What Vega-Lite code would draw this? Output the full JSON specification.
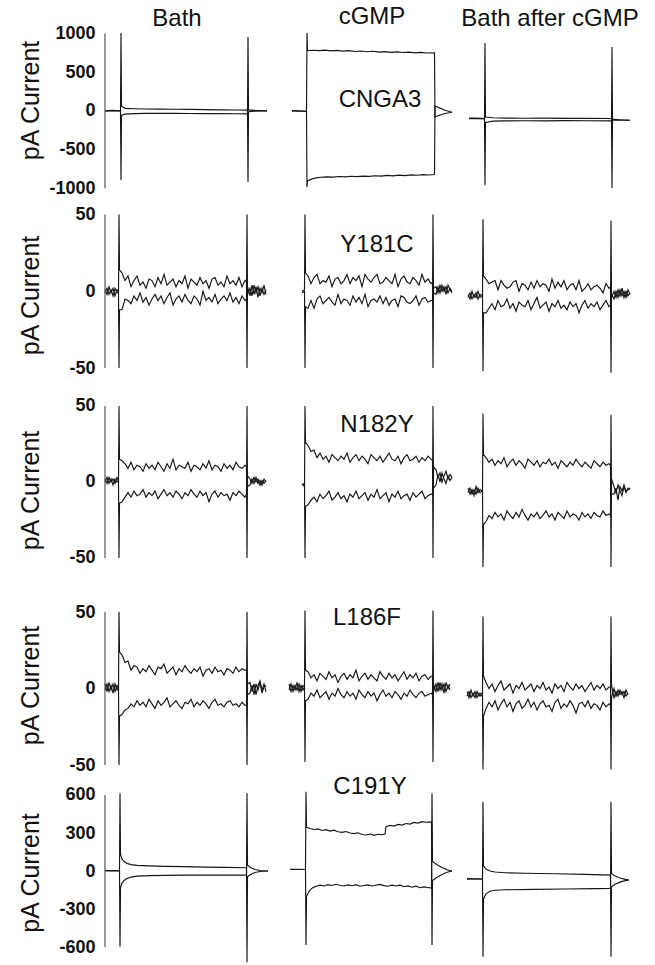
{
"$schema":"https://vega.github.io/schema/vega-lite/v6.json",
"background":"white",
"padding":{"left":18,"top":0,"right":0,"bottom":0},
"spacing":0,
"bounds":"flush",
"config":{"view":{"stroke":null},
"axis":{"labelFont":"Liberation Sans","labelFontSize":18,"labelFontWeight":"bold","labelColor":"#111","labelExpr":"'' + datum.value","titleFont":"Liberation Sans","titleFontSize":25,"titleFontWeight":"normal","titleColor":"#111","ticks":false,"labelPadding":7,"minExtent":47,"maxExtent":47,"titlePadding":12,"domain":false,"grid":false}},
"datasets":{
"r1":[
{"k":"ap","x":0,"y":0},{"k":"ap","x":8,"y":5},{"k":"ap","x":15.5,"y":0},{"k":"ap","x":16,"y":1004},{"k":"ap","x":16.5,"y":60},{"k":"ap","x":20,"y":32},{"k":"ap","x":30,"y":27},{"k":"ap","x":40,"y":24},{"k":"ap","x":55,"y":22},{"k":"ap","x":70,"y":20},{"k":"ap","x":85,"y":18},{"k":"ap","x":100,"y":15},{"k":"ap","x":115,"y":13},{"k":"ap","x":130,"y":10},{"k":"ap","x":142.5,"y":8},{"k":"ap","x":143,"y":-919},{"k":"ap","x":143.5,"y":-12},{"k":"ap","x":150,"y":-5},{"k":"ap","x":156,"y":-2},{"k":"ap","x":162,"y":0},
{"k":"an","x":0,"y":-3},{"k":"an","x":8,"y":0},{"k":"an","x":15.5,"y":-3},{"k":"an","x":16,"y":-893},{"k":"an","x":16.5,"y":-60},{"k":"an","x":20,"y":-42},{"k":"an","x":30,"y":-36},{"k":"an","x":40,"y":-34},{"k":"an","x":55,"y":-33},{"k":"an","x":70,"y":-34},{"k":"an","x":85,"y":-35},{"k":"an","x":100,"y":-36},{"k":"an","x":115,"y":-37},{"k":"an","x":130,"y":-38},{"k":"an","x":142.5,"y":-40},{"k":"an","x":143,"y":952},{"k":"an","x":143.5,"y":12},{"k":"an","x":150,"y":5},{"k":"an","x":156,"y":2},{"k":"an","x":162,"y":0},
{"k":"bp","x":187,"y":0},{"k":"bp","x":195,"y":-4},{"k":"bp","x":201.5,"y":-6},{"k":"bp","x":202,"y":1004},{"k":"bp","x":202.5,"y":778},{"k":"bp","x":208,"y":782},{"k":"bp","x":214,"y":776},{"k":"bp","x":220,"y":784},{"k":"bp","x":226,"y":774},{"k":"bp","x":232,"y":779},{"k":"bp","x":238,"y":770},{"k":"bp","x":244,"y":776},{"k":"bp","x":250,"y":766},{"k":"bp","x":256,"y":772},{"k":"bp","x":262,"y":762},{"k":"bp","x":268,"y":768},{"k":"bp","x":274,"y":758},{"k":"bp","x":280,"y":764},{"k":"bp","x":286,"y":754},{"k":"bp","x":292,"y":760},{"k":"bp","x":298,"y":752},{"k":"bp","x":304,"y":757},{"k":"bp","x":310,"y":748},{"k":"bp","x":316,"y":754},{"k":"bp","x":322,"y":746},{"k":"bp","x":329.5,"y":748},{"k":"bp","x":330,"y":-80},{"k":"bp","x":335,"y":-55},{"k":"bp","x":340,"y":-35},{"k":"bp","x":347,"y":-18},
{"k":"bn","x":187,"y":2},{"k":"bn","x":195,"y":-2},{"k":"bn","x":201.5,"y":-5},{"k":"bn","x":202,"y":-983},{"k":"bn","x":202.5,"y":-905},{"k":"bn","x":206,"y":-885},{"k":"bn","x":210,"y":-868},{"k":"bn","x":216,"y":-858},{"k":"bn","x":222,"y":-852},{"k":"bn","x":228,"y":-856},{"k":"bn","x":234,"y":-848},{"k":"bn","x":240,"y":-853},{"k":"bn","x":246,"y":-845},{"k":"bn","x":252,"y":-850},{"k":"bn","x":258,"y":-842},{"k":"bn","x":264,"y":-847},{"k":"bn","x":270,"y":-838},{"k":"bn","x":276,"y":-843},{"k":"bn","x":282,"y":-834},{"k":"bn","x":288,"y":-840},{"k":"bn","x":294,"y":-830},{"k":"bn","x":300,"y":-836},{"k":"bn","x":306,"y":-827},{"k":"bn","x":312,"y":-832},{"k":"bn","x":318,"y":-824},{"k":"bn","x":324,"y":-828},{"k":"bn","x":329.5,"y":-822},{"k":"bn","x":330,"y":62},{"k":"bn","x":335,"y":35},{"k":"bn","x":340,"y":8},{"k":"bn","x":347,"y":-18},
{"k":"cp","x":364,"y":-95},{"k":"cp","x":372,"y":-98},{"k":"cp","x":379.5,"y":-100},{"k":"cp","x":380,"y":875},{"k":"cp","x":380.5,"y":-80},{"k":"cp","x":388,"y":-90},{"k":"cp","x":400,"y":-94},{"k":"cp","x":420,"y":-96},{"k":"cp","x":440,"y":-95},{"k":"cp","x":460,"y":-98},{"k":"cp","x":480,"y":-97},{"k":"cp","x":506.5,"y":-99},{"k":"cp","x":507,"y":-996},{"k":"cp","x":507.5,"y":-118},{"k":"cp","x":515,"y":-120},{"k":"cp","x":525,"y":-122},
{"k":"cn","x":364,"y":-100},{"k":"cn","x":372,"y":-97},{"k":"cn","x":379.5,"y":-100},{"k":"cn","x":380,"y":-957},{"k":"cn","x":380.5,"y":-150},{"k":"cn","x":388,"y":-134},{"k":"cn","x":400,"y":-130},{"k":"cn","x":420,"y":-128},{"k":"cn","x":440,"y":-129},{"k":"cn","x":460,"y":-127},{"k":"cn","x":480,"y":-128},{"k":"cn","x":506.5,"y":-130},{"k":"cn","x":507,"y":823},{"k":"cn","x":507.5,"y":-108},{"k":"cn","x":515,"y":-116},{"k":"cn","x":525,"y":-122}
],
"r2":[
{"k":"ap","x":0,"y":1},{"k":"ap","x":2,"y":-2},{"k":"ap","x":4,"y":3},{"k":"ap","x":6,"y":-1},{"k":"ap","x":8,"y":2},{"k":"ap","x":10,"y":-3},{"k":"ap","x":12,"y":1},{"k":"ap","x":13.5,"y":0},{"k":"ap","x":14,"y":50},{"k":"ap","x":14.5,"y":14},
{"k":"ap","x":17,"y":12},{"k":"ap","x":20,"y":7},{"k":"ap","x":23,"y":10},{"k":"ap","x":26,"y":3},{"k":"ap","x":29,"y":7},{"k":"ap","x":32,"y":10},{"k":"ap","x":35,"y":4},{"k":"ap","x":38,"y":6},{"k":"ap","x":41,"y":2},{"k":"ap","x":44,"y":8},{"k":"ap","x":47,"y":7},{"k":"ap","x":50,"y":3},{"k":"ap","x":53,"y":9},{"k":"ap","x":56,"y":5},{"k":"ap","x":59,"y":11},{"k":"ap","x":62,"y":4},{"k":"ap","x":65,"y":6},{"k":"ap","x":68,"y":8},{"k":"ap","x":71,"y":3},{"k":"ap","x":74,"y":7},{"k":"ap","x":77,"y":5},{"k":"ap","x":80,"y":10},{"k":"ap","x":83,"y":2},{"k":"ap","x":86,"y":8},{"k":"ap","x":89,"y":6},{"k":"ap","x":92,"y":4},{"k":"ap","x":95,"y":9},{"k":"ap","x":98,"y":5},{"k":"ap","x":101,"y":7},{"k":"ap","x":104,"y":2},{"k":"ap","x":107,"y":8},{"k":"ap","x":110,"y":9},{"k":"ap","x":113,"y":4},{"k":"ap","x":116,"y":6},{"k":"ap","x":119,"y":3},{"k":"ap","x":122,"y":10},{"k":"ap","x":125,"y":5},{"k":"ap","x":128,"y":7},{"k":"ap","x":131,"y":4},{"k":"ap","x":134,"y":9},{"k":"ap","x":137,"y":3},{"k":"ap","x":140,"y":7},
{"k":"ap","x":141.5,"y":6},{"k":"ap","x":142,"y":-50},{"k":"ap","x":142.5,"y":3},{"k":"ap","x":145,"y":-3},{"k":"ap","x":147,"y":4},{"k":"ap","x":149,"y":-2},{"k":"ap","x":151,"y":3},{"k":"ap","x":153,"y":-4},{"k":"ap","x":155,"y":2},{"k":"ap","x":157,"y":-1},{"k":"ap","x":159,"y":4},{"k":"ap","x":161,"y":-2},
{"k":"an","x":0,"y":-1},{"k":"an","x":2,"y":2},{"k":"an","x":4,"y":-2},{"k":"an","x":6,"y":1},{"k":"an","x":8,"y":-3},{"k":"an","x":10,"y":2},{"k":"an","x":12,"y":-1},{"k":"an","x":13.5,"y":0},{"k":"an","x":14,"y":-50},{"k":"an","x":14.5,"y":-12},
{"k":"an","x":17,"y":-12},{"k":"an","x":20,"y":-5},{"k":"an","x":23,"y":-6},{"k":"an","x":26,"y":-8},{"k":"an","x":29,"y":-3},{"k":"an","x":32,"y":-6},{"k":"an","x":35,"y":-1},{"k":"an","x":38,"y":-7},{"k":"an","x":41,"y":-4},{"k":"an","x":44,"y":-9},{"k":"an","x":47,"y":-5},{"k":"an","x":50,"y":-2},{"k":"an","x":53,"y":-6},{"k":"an","x":56,"y":-3},{"k":"an","x":59,"y":-8},{"k":"an","x":62,"y":-4},{"k":"an","x":65,"y":-1},{"k":"an","x":68,"y":-9},{"k":"an","x":71,"y":-5},{"k":"an","x":74,"y":-3},{"k":"an","x":77,"y":-7},{"k":"an","x":80,"y":-2},{"k":"an","x":83,"y":-6},{"k":"an","x":86,"y":-8},{"k":"an","x":89,"y":-3},{"k":"an","x":92,"y":-5},{"k":"an","x":95,"y":-9},{"k":"an","x":98,"y":0},{"k":"an","x":101,"y":-6},{"k":"an","x":104,"y":-4},{"k":"an","x":107,"y":-7},{"k":"an","x":110,"y":-2},{"k":"an","x":113,"y":-8},{"k":"an","x":116,"y":-5},{"k":"an","x":119,"y":-3},{"k":"an","x":122,"y":-6},{"k":"an","x":125,"y":-1},{"k":"an","x":128,"y":-7},{"k":"an","x":131,"y":-4},{"k":"an","x":134,"y":-8},{"k":"an","x":137,"y":-3},{"k":"an","x":140,"y":-6},
{"k":"an","x":141.5,"y":-5},{"k":"an","x":142,"y":50},{"k":"an","x":142.5,"y":-2},{"k":"an","x":145,"y":2},{"k":"an","x":147,"y":-3},{"k":"an","x":149,"y":4},{"k":"an","x":151,"y":-1},{"k":"an","x":153,"y":3},{"k":"an","x":155,"y":-3},{"k":"an","x":157,"y":2},{"k":"an","x":159,"y":-2},{"k":"an","x":161,"y":1},
{"k":"bp","x":197,"y":0},{"k":"bp","x":199.5,"y":1},{"k":"bp","x":200,"y":50},{"k":"bp","x":200.5,"y":12},
{"k":"bp","x":203,"y":10},{"k":"bp","x":206,"y":5},{"k":"bp","x":209,"y":9},{"k":"bp","x":212,"y":11},{"k":"bp","x":215,"y":5},{"k":"bp","x":218,"y":7},{"k":"bp","x":221,"y":6},{"k":"bp","x":224,"y":10},{"k":"bp","x":227,"y":3},{"k":"bp","x":230,"y":8},{"k":"bp","x":233,"y":9},{"k":"bp","x":236,"y":5},{"k":"bp","x":239,"y":7},{"k":"bp","x":242,"y":11},{"k":"bp","x":245,"y":5},{"k":"bp","x":248,"y":9},{"k":"bp","x":251,"y":7},{"k":"bp","x":254,"y":10},{"k":"bp","x":257,"y":3},{"k":"bp","x":260,"y":11},{"k":"bp","x":263,"y":8},{"k":"bp","x":266,"y":6},{"k":"bp","x":269,"y":9},{"k":"bp","x":272,"y":11},{"k":"bp","x":275,"y":5},{"k":"bp","x":278,"y":6},{"k":"bp","x":281,"y":9},{"k":"bp","x":284,"y":7},{"k":"bp","x":287,"y":5},{"k":"bp","x":290,"y":11},{"k":"bp","x":293,"y":3},{"k":"bp","x":296,"y":8},{"k":"bp","x":299,"y":10},{"k":"bp","x":302,"y":6},{"k":"bp","x":305,"y":5},{"k":"bp","x":308,"y":9},{"k":"bp","x":311,"y":7},{"k":"bp","x":314,"y":4},{"k":"bp","x":317,"y":11},{"k":"bp","x":320,"y":6},{"k":"bp","x":323,"y":8},{"k":"bp","x":326,"y":5},
{"k":"bp","x":327.5,"y":6},{"k":"bp","x":328,"y":-50},{"k":"bp","x":328.5,"y":2},{"k":"bp","x":331,"y":3},{"k":"bp","x":333,"y":-1},{"k":"bp","x":335,"y":4},{"k":"bp","x":337,"y":0},{"k":"bp","x":339,"y":3},{"k":"bp","x":341,"y":-2},{"k":"bp","x":343,"y":4},{"k":"bp","x":345,"y":1},{"k":"bp","x":347,"y":-1},
{"k":"bn","x":197,"y":-1},{"k":"bn","x":199.5,"y":0},{"k":"bn","x":200,"y":-50},{"k":"bn","x":200.5,"y":-10},
{"k":"bn","x":203,"y":-11},{"k":"bn","x":206,"y":-6},{"k":"bn","x":209,"y":-11},{"k":"bn","x":212,"y":-5},{"k":"bn","x":215,"y":-3},{"k":"bn","x":218,"y":-8},{"k":"bn","x":221,"y":-6},{"k":"bn","x":224,"y":-4},{"k":"bn","x":227,"y":-7},{"k":"bn","x":230,"y":-9},{"k":"bn","x":233,"y":-2},{"k":"bn","x":236,"y":-8},{"k":"bn","x":239,"y":-5},{"k":"bn","x":242,"y":-6},{"k":"bn","x":245,"y":-9},{"k":"bn","x":248,"y":-3},{"k":"bn","x":251,"y":-7},{"k":"bn","x":254,"y":-4},{"k":"bn","x":257,"y":-8},{"k":"bn","x":260,"y":-2},{"k":"bn","x":263,"y":-10},{"k":"bn","x":266,"y":-6},{"k":"bn","x":269,"y":-5},{"k":"bn","x":272,"y":-7},{"k":"bn","x":275,"y":-3},{"k":"bn","x":278,"y":-8},{"k":"bn","x":281,"y":-4},{"k":"bn","x":284,"y":-9},{"k":"bn","x":287,"y":-6},{"k":"bn","x":290,"y":-5},{"k":"bn","x":293,"y":-10},{"k":"bn","x":296,"y":-3},{"k":"bn","x":299,"y":-4},{"k":"bn","x":302,"y":-7},{"k":"bn","x":305,"y":-8},{"k":"bn","x":308,"y":-6},{"k":"bn","x":311,"y":-3},{"k":"bn","x":314,"y":-9},{"k":"bn","x":317,"y":-5},{"k":"bn","x":320,"y":-4},{"k":"bn","x":323,"y":-7},{"k":"bn","x":326,"y":-6},
{"k":"bn","x":327.5,"y":-6},{"k":"bn","x":328,"y":50},{"k":"bn","x":328.5,"y":-1},{"k":"bn","x":331,"y":-2},{"k":"bn","x":333,"y":3},{"k":"bn","x":335,"y":-1},{"k":"bn","x":337,"y":4},{"k":"bn","x":339,"y":0},{"k":"bn","x":341,"y":3},{"k":"bn","x":343,"y":-1},{"k":"bn","x":345,"y":2},{"k":"bn","x":347,"y":0},
{"k":"cp","x":363,"y":-2},{"k":"cp","x":365,"y":-5},{"k":"cp","x":367,"y":0},{"k":"cp","x":369,"y":-4},{"k":"cp","x":371,"y":-1},{"k":"cp","x":373,"y":-5},{"k":"cp","x":375,"y":-2},{"k":"cp","x":377.5,"y":-3},{"k":"cp","x":378,"y":47},{"k":"cp","x":378.5,"y":10},
{"k":"cp","x":381,"y":8},{"k":"cp","x":384,"y":5},{"k":"cp","x":387,"y":6},{"k":"cp","x":390,"y":7},{"k":"cp","x":393,"y":1},{"k":"cp","x":396,"y":7},{"k":"cp","x":399,"y":4},{"k":"cp","x":402,"y":2},{"k":"cp","x":405,"y":3},{"k":"cp","x":408,"y":6},{"k":"cp","x":411,"y":7},{"k":"cp","x":414,"y":0},{"k":"cp","x":417,"y":5},{"k":"cp","x":420,"y":4},{"k":"cp","x":423,"y":1},{"k":"cp","x":426,"y":6},{"k":"cp","x":429,"y":2},{"k":"cp","x":432,"y":7},{"k":"cp","x":435,"y":3},{"k":"cp","x":438,"y":5},{"k":"cp","x":441,"y":4},{"k":"cp","x":444,"y":0},{"k":"cp","x":447,"y":8},{"k":"cp","x":450,"y":2},{"k":"cp","x":453,"y":6},{"k":"cp","x":456,"y":3},{"k":"cp","x":459,"y":7},{"k":"cp","x":462,"y":1},{"k":"cp","x":465,"y":4},{"k":"cp","x":468,"y":5},{"k":"cp","x":471,"y":1},{"k":"cp","x":474,"y":7},{"k":"cp","x":477,"y":0},{"k":"cp","x":480,"y":2},{"k":"cp","x":483,"y":5},{"k":"cp","x":486,"y":1},{"k":"cp","x":489,"y":3},{"k":"cp","x":492,"y":4},{"k":"cp","x":495,"y":2},{"k":"cp","x":498,"y":-1},{"k":"cp","x":501,"y":5},{"k":"cp","x":504,"y":2},
{"k":"cp","x":505.5,"y":3},{"k":"cp","x":506,"y":-53},{"k":"cp","x":506.5,"y":-2},{"k":"cp","x":509,"y":-5},{"k":"cp","x":511,"y":0},{"k":"cp","x":513,"y":-4},{"k":"cp","x":515,"y":1},{"k":"cp","x":517,"y":-3},{"k":"cp","x":519,"y":0},{"k":"cp","x":521,"y":-4},{"k":"cp","x":523,"y":1},{"k":"cp","x":525,"y":-2},
{"k":"cn","x":363,"y":-4},{"k":"cn","x":365,"y":-1},{"k":"cn","x":367,"y":-5},{"k":"cn","x":369,"y":-2},{"k":"cn","x":371,"y":-4},{"k":"cn","x":373,"y":0},{"k":"cn","x":375,"y":-4},{"k":"cn","x":377.5,"y":-3},{"k":"cn","x":378,"y":-52},{"k":"cn","x":378.5,"y":-14},
{"k":"cn","x":381,"y":-14},{"k":"cn","x":384,"y":-11},{"k":"cn","x":387,"y":-8},{"k":"cn","x":390,"y":-12},{"k":"cn","x":393,"y":-6},{"k":"cn","x":396,"y":-10},{"k":"cn","x":399,"y":-9},{"k":"cn","x":402,"y":-5},{"k":"cn","x":405,"y":-11},{"k":"cn","x":408,"y":-8},{"k":"cn","x":411,"y":-13},{"k":"cn","x":414,"y":-7},{"k":"cn","x":417,"y":-9},{"k":"cn","x":420,"y":-10},{"k":"cn","x":423,"y":-6},{"k":"cn","x":426,"y":-12},{"k":"cn","x":429,"y":-8},{"k":"cn","x":432,"y":-4},{"k":"cn","x":435,"y":-11},{"k":"cn","x":438,"y":-9},{"k":"cn","x":441,"y":-7},{"k":"cn","x":444,"y":-13},{"k":"cn","x":447,"y":-8},{"k":"cn","x":450,"y":-10},{"k":"cn","x":453,"y":-6},{"k":"cn","x":456,"y":-11},{"k":"cn","x":459,"y":-9},{"k":"cn","x":462,"y":-12},{"k":"cn","x":465,"y":-7},{"k":"cn","x":468,"y":-10},{"k":"cn","x":471,"y":-8},{"k":"cn","x":474,"y":-14},{"k":"cn","x":477,"y":-9},{"k":"cn","x":480,"y":-6},{"k":"cn","x":483,"y":-11},{"k":"cn","x":486,"y":-8},{"k":"cn","x":489,"y":-10},{"k":"cn","x":492,"y":-7},{"k":"cn","x":495,"y":-12},{"k":"cn","x":498,"y":-9},{"k":"cn","x":501,"y":-6},{"k":"cn","x":504,"y":-10},
{"k":"cn","x":505.5,"y":-9},{"k":"cn","x":506,"y":46},{"k":"cn","x":506.5,"y":-4},{"k":"cn","x":509,"y":0},{"k":"cn","x":511,"y":-4},{"k":"cn","x":513,"y":1},{"k":"cn","x":515,"y":-3},{"k":"cn","x":517,"y":2},{"k":"cn","x":519,"y":-4},{"k":"cn","x":521,"y":0},{"k":"cn","x":523,"y":-3},{"k":"cn","x":525,"y":-1}
],
"r3":[
{"k":"ap","x":0,"y":2},{"k":"ap","x":2,"y":-1},{"k":"ap","x":4,"y":3},{"k":"ap","x":6,"y":0},{"k":"ap","x":8,"y":2},{"k":"ap","x":10,"y":-1},{"k":"ap","x":12,"y":3},{"k":"ap","x":13.5,"y":1},{"k":"ap","x":14,"y":50},{"k":"ap","x":14.5,"y":15},
{"k":"ap","x":17,"y":14},{"k":"ap","x":20,"y":12},{"k":"ap","x":23,"y":9},{"k":"ap","x":26,"y":13},{"k":"ap","x":29,"y":8},{"k":"ap","x":32,"y":11},{"k":"ap","x":35,"y":10},{"k":"ap","x":38,"y":7},{"k":"ap","x":41,"y":12},{"k":"ap","x":44,"y":9},{"k":"ap","x":47,"y":11},{"k":"ap","x":50,"y":8},{"k":"ap","x":53,"y":13},{"k":"ap","x":56,"y":10},{"k":"ap","x":59,"y":7},{"k":"ap","x":62,"y":12},{"k":"ap","x":65,"y":9},{"k":"ap","x":68,"y":15},{"k":"ap","x":71,"y":8},{"k":"ap","x":74,"y":11},{"k":"ap","x":77,"y":10},{"k":"ap","x":80,"y":9},{"k":"ap","x":83,"y":13},{"k":"ap","x":86,"y":7},{"k":"ap","x":89,"y":11},{"k":"ap","x":92,"y":10},{"k":"ap","x":95,"y":8},{"k":"ap","x":98,"y":12},{"k":"ap","x":101,"y":9},{"k":"ap","x":104,"y":14},{"k":"ap","x":107,"y":8},{"k":"ap","x":110,"y":11},{"k":"ap","x":113,"y":10},{"k":"ap","x":116,"y":7},{"k":"ap","x":119,"y":12},{"k":"ap","x":122,"y":9},{"k":"ap","x":125,"y":11},{"k":"ap","x":128,"y":8},{"k":"ap","x":131,"y":13},{"k":"ap","x":134,"y":10},{"k":"ap","x":137,"y":9},{"k":"ap","x":140,"y":11},
{"k":"ap","x":141.5,"y":10},{"k":"ap","x":142,"y":-50},{"k":"ap","x":142.5,"y":4},{"k":"ap","x":145,"y":2},{"k":"ap","x":147,"y":-1},{"k":"ap","x":149,"y":3},{"k":"ap","x":151,"y":0},{"k":"ap","x":153,"y":2},{"k":"ap","x":155,"y":-2},{"k":"ap","x":157,"y":1},{"k":"ap","x":159,"y":-1},{"k":"ap","x":161,"y":1},
{"k":"an","x":0,"y":0},{"k":"an","x":2,"y":3},{"k":"an","x":4,"y":-1},{"k":"an","x":6,"y":2},{"k":"an","x":8,"y":-2},{"k":"an","x":10,"y":2},{"k":"an","x":12,"y":0},{"k":"an","x":13.5,"y":1},{"k":"an","x":14,"y":-50},{"k":"an","x":14.5,"y":-14},
{"k":"an","x":17,"y":-13},{"k":"an","x":20,"y":-10},{"k":"an","x":23,"y":-7},{"k":"an","x":26,"y":-10},{"k":"an","x":29,"y":-6},{"k":"an","x":32,"y":-9},{"k":"an","x":35,"y":-8},{"k":"an","x":38,"y":-5},{"k":"an","x":41,"y":-10},{"k":"an","x":44,"y":-7},{"k":"an","x":47,"y":-9},{"k":"an","x":50,"y":-6},{"k":"an","x":53,"y":-11},{"k":"an","x":56,"y":-8},{"k":"an","x":59,"y":-5},{"k":"an","x":62,"y":-9},{"k":"an","x":65,"y":-7},{"k":"an","x":68,"y":-10},{"k":"an","x":71,"y":-6},{"k":"an","x":74,"y":-8},{"k":"an","x":77,"y":-11},{"k":"an","x":80,"y":-7},{"k":"an","x":83,"y":-9},{"k":"an","x":86,"y":-5},{"k":"an","x":89,"y":-8},{"k":"an","x":92,"y":-10},{"k":"an","x":95,"y":-6},{"k":"an","x":98,"y":-9},{"k":"an","x":101,"y":-7},{"k":"an","x":104,"y":-13},{"k":"an","x":107,"y":-8},{"k":"an","x":110,"y":-6},{"k":"an","x":113,"y":-10},{"k":"an","x":116,"y":-7},{"k":"an","x":119,"y":-9},{"k":"an","x":122,"y":-8},{"k":"an","x":125,"y":-12},{"k":"an","x":128,"y":-7},{"k":"an","x":131,"y":-9},{"k":"an","x":134,"y":-6},{"k":"an","x":137,"y":-8},{"k":"an","x":140,"y":-10},
{"k":"an","x":141.5,"y":-8},{"k":"an","x":142,"y":50},{"k":"an","x":142.5,"y":-3},{"k":"an","x":145,"y":-2},{"k":"an","x":147,"y":2},{"k":"an","x":149,"y":-1},{"k":"an","x":151,"y":3},{"k":"an","x":153,"y":-1},{"k":"an","x":155,"y":1},{"k":"an","x":157,"y":-2},{"k":"an","x":159,"y":2},{"k":"an","x":161,"y":0},
{"k":"bp","x":197,"y":-1},{"k":"bp","x":199.5,"y":-3},{"k":"bp","x":200,"y":50},{"k":"bp","x":200.5,"y":26},
{"k":"bp","x":203,"y":24},{"k":"bp","x":206,"y":20},{"k":"bp","x":209,"y":21},{"k":"bp","x":212,"y":16},{"k":"bp","x":215,"y":19},{"k":"bp","x":218,"y":15},{"k":"bp","x":221,"y":17},{"k":"bp","x":224,"y":13},{"k":"bp","x":227,"y":18},{"k":"bp","x":230,"y":16},{"k":"bp","x":233,"y":14},{"k":"bp","x":236,"y":17},{"k":"bp","x":239,"y":15},{"k":"bp","x":242,"y":19},{"k":"bp","x":245,"y":13},{"k":"bp","x":248,"y":16},{"k":"bp","x":251,"y":18},{"k":"bp","x":254,"y":14},{"k":"bp","x":257,"y":17},{"k":"bp","x":260,"y":15},{"k":"bp","x":263,"y":12},{"k":"bp","x":266,"y":18},{"k":"bp","x":269,"y":16},{"k":"bp","x":272,"y":14},{"k":"bp","x":275,"y":17},{"k":"bp","x":278,"y":13},{"k":"bp","x":281,"y":16},{"k":"bp","x":284,"y":19},{"k":"bp","x":287,"y":15},{"k":"bp","x":290,"y":14},{"k":"bp","x":293,"y":17},{"k":"bp","x":296,"y":12},{"k":"bp","x":299,"y":16},{"k":"bp","x":302,"y":18},{"k":"bp","x":305,"y":14},{"k":"bp","x":308,"y":15},{"k":"bp","x":311,"y":17},{"k":"bp","x":314,"y":13},{"k":"bp","x":317,"y":16},{"k":"bp","x":320,"y":14},{"k":"bp","x":323,"y":17},{"k":"bp","x":326,"y":15},
{"k":"bp","x":327.5,"y":14},{"k":"bp","x":328,"y":-50},{"k":"bp","x":328.5,"y":10},{"k":"bp","x":331,"y":8},{"k":"bp","x":333,"y":3},{"k":"bp","x":335,"y":6},{"k":"bp","x":337,"y":0},{"k":"bp","x":339,"y":4},{"k":"bp","x":341,"y":7},{"k":"bp","x":343,"y":2},{"k":"bp","x":345,"y":5},{"k":"bp","x":347,"y":3},
{"k":"bn","x":197,"y":-2},{"k":"bn","x":199.5,"y":-1},{"k":"bn","x":200,"y":-50},{"k":"bn","x":200.5,"y":-16},
{"k":"bn","x":203,"y":-15},{"k":"bn","x":206,"y":-12},{"k":"bn","x":209,"y":-10},{"k":"bn","x":212,"y":-13},{"k":"bn","x":215,"y":-8},{"k":"bn","x":218,"y":-11},{"k":"bn","x":221,"y":-9},{"k":"bn","x":224,"y":-6},{"k":"bn","x":227,"y":-12},{"k":"bn","x":230,"y":-10},{"k":"bn","x":233,"y":-7},{"k":"bn","x":236,"y":-11},{"k":"bn","x":239,"y":-9},{"k":"bn","x":242,"y":-13},{"k":"bn","x":245,"y":-8},{"k":"bn","x":248,"y":-10},{"k":"bn","x":251,"y":-6},{"k":"bn","x":254,"y":-11},{"k":"bn","x":257,"y":-9},{"k":"bn","x":260,"y":-7},{"k":"bn","x":263,"y":-12},{"k":"bn","x":266,"y":-8},{"k":"bn","x":269,"y":-10},{"k":"bn","x":272,"y":-5},{"k":"bn","x":275,"y":-11},{"k":"bn","x":278,"y":-9},{"k":"bn","x":281,"y":-7},{"k":"bn","x":284,"y":-13},{"k":"bn","x":287,"y":-8},{"k":"bn","x":290,"y":-10},{"k":"bn","x":293,"y":-6},{"k":"bn","x":296,"y":-11},{"k":"bn","x":299,"y":-9},{"k":"bn","x":302,"y":-8},{"k":"bn","x":305,"y":-12},{"k":"bn","x":308,"y":-7},{"k":"bn","x":311,"y":-10},{"k":"bn","x":314,"y":-8},{"k":"bn","x":317,"y":-6},{"k":"bn","x":320,"y":-11},{"k":"bn","x":323,"y":-9},{"k":"bn","x":326,"y":-8},
{"k":"bn","x":327.5,"y":-8},{"k":"bn","x":328,"y":50},{"k":"bn","x":328.5,"y":-4},{"k":"bn","x":331,"y":-2},{"k":"bn","x":333,"y":5},{"k":"bn","x":335,"y":0},{"k":"bn","x":337,"y":6},{"k":"bn","x":339,"y":2},{"k":"bn","x":341,"y":-1},{"k":"bn","x":343,"y":4},{"k":"bn","x":345,"y":1},{"k":"bn","x":347,"y":3},
{"k":"cp","x":363,"y":-4},{"k":"cp","x":365,"y":-8},{"k":"cp","x":367,"y":-5},{"k":"cp","x":369,"y":-9},{"k":"cp","x":371,"y":-3},{"k":"cp","x":373,"y":-7},{"k":"cp","x":375,"y":-5},{"k":"cp","x":377.5,"y":-6},{"k":"cp","x":378,"y":45},{"k":"cp","x":378.5,"y":18},
{"k":"cp","x":381,"y":16},{"k":"cp","x":384,"y":13},{"k":"cp","x":387,"y":15},{"k":"cp","x":390,"y":11},{"k":"cp","x":393,"y":14},{"k":"cp","x":396,"y":12},{"k":"cp","x":399,"y":16},{"k":"cp","x":402,"y":10},{"k":"cp","x":405,"y":13},{"k":"cp","x":408,"y":15},{"k":"cp","x":411,"y":11},{"k":"cp","x":414,"y":14},{"k":"cp","x":417,"y":12},{"k":"cp","x":420,"y":9},{"k":"cp","x":423,"y":15},{"k":"cp","x":426,"y":13},{"k":"cp","x":429,"y":11},{"k":"cp","x":432,"y":14},{"k":"cp","x":435,"y":10},{"k":"cp","x":438,"y":13},{"k":"cp","x":441,"y":12},{"k":"cp","x":444,"y":15},{"k":"cp","x":447,"y":11},{"k":"cp","x":450,"y":13},{"k":"cp","x":453,"y":9},{"k":"cp","x":456,"y":14},{"k":"cp","x":459,"y":12},{"k":"cp","x":462,"y":10},{"k":"cp","x":465,"y":13},{"k":"cp","x":468,"y":11},{"k":"cp","x":471,"y":15},{"k":"cp","x":474,"y":12},{"k":"cp","x":477,"y":10},{"k":"cp","x":480,"y":13},{"k":"cp","x":483,"y":11},{"k":"cp","x":486,"y":9},{"k":"cp","x":489,"y":14},{"k":"cp","x":492,"y":12},{"k":"cp","x":495,"y":10},{"k":"cp","x":498,"y":13},{"k":"cp","x":501,"y":11},{"k":"cp","x":504,"y":12},
{"k":"cp","x":505.5,"y":11},{"k":"cp","x":506,"y":-56},{"k":"cp","x":506.5,"y":2},{"k":"cp","x":509,"y":-3},{"k":"cp","x":511,"y":-7},{"k":"cp","x":513,"y":-2},{"k":"cp","x":515,"y":-6},{"k":"cp","x":517,"y":-9},{"k":"cp","x":519,"y":-3},{"k":"cp","x":521,"y":-7},{"k":"cp","x":523,"y":-4},{"k":"cp","x":525,"y":-5},
{"k":"cn","x":363,"y":-7},{"k":"cn","x":365,"y":-4},{"k":"cn","x":367,"y":-8},{"k":"cn","x":369,"y":-5},{"k":"cn","x":371,"y":-8},{"k":"cn","x":373,"y":-4},{"k":"cn","x":375,"y":-7},{"k":"cn","x":377.5,"y":-6},{"k":"cn","x":378,"y":-56},{"k":"cn","x":378.5,"y":-28},
{"k":"cn","x":381,"y":-26},{"k":"cn","x":384,"y":-22},{"k":"cn","x":387,"y":-24},{"k":"cn","x":390,"y":-20},{"k":"cn","x":393,"y":-23},{"k":"cn","x":396,"y":-21},{"k":"cn","x":399,"y":-25},{"k":"cn","x":402,"y":-19},{"k":"cn","x":405,"y":-22},{"k":"cn","x":408,"y":-24},{"k":"cn","x":411,"y":-20},{"k":"cn","x":414,"y":-23},{"k":"cn","x":417,"y":-18},{"k":"cn","x":420,"y":-22},{"k":"cn","x":423,"y":-25},{"k":"cn","x":426,"y":-21},{"k":"cn","x":429,"y":-23},{"k":"cn","x":432,"y":-20},{"k":"cn","x":435,"y":-24},{"k":"cn","x":438,"y":-22},{"k":"cn","x":441,"y":-19},{"k":"cn","x":444,"y":-23},{"k":"cn","x":447,"y":-21},{"k":"cn","x":450,"y":-25},{"k":"cn","x":453,"y":-20},{"k":"cn","x":456,"y":-22},{"k":"cn","x":459,"y":-24},{"k":"cn","x":462,"y":-19},{"k":"cn","x":465,"y":-23},{"k":"cn","x":468,"y":-21},{"k":"cn","x":471,"y":-22},{"k":"cn","x":474,"y":-25},{"k":"cn","x":477,"y":-20},{"k":"cn","x":480,"y":-23},{"k":"cn","x":483,"y":-21},{"k":"cn","x":486,"y":-24},{"k":"cn","x":489,"y":-20},{"k":"cn","x":492,"y":-22},{"k":"cn","x":495,"y":-23},{"k":"cn","x":498,"y":-19},{"k":"cn","x":501,"y":-22},{"k":"cn","x":504,"y":-21},
{"k":"cn","x":505.5,"y":-22},{"k":"cn","x":506,"y":44},{"k":"cn","x":506.5,"y":-8},{"k":"cn","x":509,"y":-8},{"k":"cn","x":511,"y":-4},{"k":"cn","x":513,"y":-12},{"k":"cn","x":515,"y":-3},{"k":"cn","x":517,"y":-6},{"k":"cn","x":519,"y":-2},{"k":"cn","x":521,"y":-6},{"k":"cn","x":523,"y":-5},{"k":"cn","x":525,"y":-4}
],
"r4":[
{"k":"ap","x":0,"y":3},{"k":"ap","x":2,"y":-2},{"k":"ap","x":4,"y":4},{"k":"ap","x":6,"y":-1},{"k":"ap","x":8,"y":3},{"k":"ap","x":10,"y":-2},{"k":"ap","x":12,"y":2},{"k":"ap","x":13.5,"y":0},{"k":"ap","x":14,"y":50},{"k":"ap","x":14.5,"y":24},
{"k":"ap","x":17,"y":22},{"k":"ap","x":20,"y":17},{"k":"ap","x":23,"y":18},{"k":"ap","x":26,"y":12},{"k":"ap","x":29,"y":15},{"k":"ap","x":32,"y":14},{"k":"ap","x":35,"y":10},{"k":"ap","x":38,"y":13},{"k":"ap","x":41,"y":11},{"k":"ap","x":44,"y":15},{"k":"ap","x":47,"y":12},{"k":"ap","x":50,"y":9},{"k":"ap","x":53,"y":14},{"k":"ap","x":56,"y":13},{"k":"ap","x":59,"y":16},{"k":"ap","x":62,"y":10},{"k":"ap","x":65,"y":12},{"k":"ap","x":68,"y":14},{"k":"ap","x":71,"y":9},{"k":"ap","x":74,"y":13},{"k":"ap","x":77,"y":11},{"k":"ap","x":80,"y":15},{"k":"ap","x":83,"y":12},{"k":"ap","x":86,"y":10},{"k":"ap","x":89,"y":13},{"k":"ap","x":92,"y":11},{"k":"ap","x":95,"y":14},{"k":"ap","x":98,"y":8},{"k":"ap","x":101,"y":12},{"k":"ap","x":104,"y":13},{"k":"ap","x":107,"y":10},{"k":"ap","x":110,"y":14},{"k":"ap","x":113,"y":11},{"k":"ap","x":116,"y":12},{"k":"ap","x":119,"y":9},{"k":"ap","x":122,"y":13},{"k":"ap","x":125,"y":12},{"k":"ap","x":128,"y":10},{"k":"ap","x":131,"y":14},{"k":"ap","x":134,"y":11},{"k":"ap","x":137,"y":13},{"k":"ap","x":140,"y":12},
{"k":"ap","x":141.5,"y":12},{"k":"ap","x":142,"y":-50},{"k":"ap","x":142.5,"y":3},{"k":"ap","x":145,"y":4},{"k":"ap","x":147,"y":-2},{"k":"ap","x":149,"y":3},{"k":"ap","x":151,"y":-4},{"k":"ap","x":153,"y":2},{"k":"ap","x":155,"y":5},{"k":"ap","x":157,"y":-1},{"k":"ap","x":159,"y":3},{"k":"ap","x":161,"y":-2},
{"k":"an","x":0,"y":-1},{"k":"an","x":2,"y":3},{"k":"an","x":4,"y":-2},{"k":"an","x":6,"y":2},{"k":"an","x":8,"y":-3},{"k":"an","x":10,"y":3},{"k":"an","x":12,"y":-1},{"k":"an","x":13.5,"y":1},{"k":"an","x":14,"y":-50},{"k":"an","x":14.5,"y":-18},
{"k":"an","x":17,"y":-17},{"k":"an","x":20,"y":-14},{"k":"an","x":23,"y":-13},{"k":"an","x":26,"y":-10},{"k":"an","x":29,"y":-12},{"k":"an","x":32,"y":-8},{"k":"an","x":35,"y":-11},{"k":"an","x":38,"y":-9},{"k":"an","x":41,"y":-12},{"k":"an","x":44,"y":-7},{"k":"an","x":47,"y":-10},{"k":"an","x":50,"y":-13},{"k":"an","x":53,"y":-8},{"k":"an","x":56,"y":-11},{"k":"an","x":59,"y":-9},{"k":"an","x":62,"y":-6},{"k":"an","x":65,"y":-12},{"k":"an","x":68,"y":-10},{"k":"an","x":71,"y":-8},{"k":"an","x":74,"y":-11},{"k":"an","x":77,"y":-13},{"k":"an","x":80,"y":-9},{"k":"an","x":83,"y":-10},{"k":"an","x":86,"y":-7},{"k":"an","x":89,"y":-12},{"k":"an","x":92,"y":-9},{"k":"an","x":95,"y":-11},{"k":"an","x":98,"y":-8},{"k":"an","x":101,"y":-10},{"k":"an","x":104,"y":-13},{"k":"an","x":107,"y":-9},{"k":"an","x":110,"y":-7},{"k":"an","x":113,"y":-11},{"k":"an","x":116,"y":-10},{"k":"an","x":119,"y":-12},{"k":"an","x":122,"y":-9},{"k":"an","x":125,"y":-8},{"k":"an","x":128,"y":-11},{"k":"an","x":131,"y":-10},{"k":"an","x":134,"y":-12},{"k":"an","x":137,"y":-9},{"k":"an","x":140,"y":-11},
{"k":"an","x":141.5,"y":-11},{"k":"an","x":142,"y":50},{"k":"an","x":142.5,"y":-4},{"k":"an","x":145,"y":-3},{"k":"an","x":147,"y":2},{"k":"an","x":149,"y":-4},{"k":"an","x":151,"y":3},{"k":"an","x":153,"y":-1},{"k":"an","x":155,"y":4},{"k":"an","x":157,"y":-3},{"k":"an","x":159,"y":1},{"k":"an","x":161,"y":2},
{"k":"bp","x":184,"y":3},{"k":"bp","x":186,"y":-2},{"k":"bp","x":188,"y":2},{"k":"bp","x":190,"y":-1},{"k":"bp","x":192,"y":4},{"k":"bp","x":194,"y":-2},{"k":"bp","x":196,"y":2},{"k":"bp","x":198,"y":-1},{"k":"bp","x":199.5,"y":1},{"k":"bp","x":200,"y":51},{"k":"bp","x":200.5,"y":12},
{"k":"bp","x":203,"y":11},{"k":"bp","x":206,"y":7},{"k":"bp","x":209,"y":9},{"k":"bp","x":212,"y":5},{"k":"bp","x":215,"y":10},{"k":"bp","x":218,"y":8},{"k":"bp","x":221,"y":6},{"k":"bp","x":224,"y":11},{"k":"bp","x":227,"y":7},{"k":"bp","x":230,"y":9},{"k":"bp","x":233,"y":4},{"k":"bp","x":236,"y":8},{"k":"bp","x":239,"y":10},{"k":"bp","x":242,"y":6},{"k":"bp","x":245,"y":9},{"k":"bp","x":248,"y":7},{"k":"bp","x":251,"y":12},{"k":"bp","x":254,"y":5},{"k":"bp","x":257,"y":8},{"k":"bp","x":260,"y":10},{"k":"bp","x":263,"y":6},{"k":"bp","x":266,"y":9},{"k":"bp","x":269,"y":7},{"k":"bp","x":272,"y":5},{"k":"bp","x":275,"y":11},{"k":"bp","x":278,"y":8},{"k":"bp","x":281,"y":6},{"k":"bp","x":284,"y":10},{"k":"bp","x":287,"y":7},{"k":"bp","x":290,"y":9},{"k":"bp","x":293,"y":5},{"k":"bp","x":296,"y":8},{"k":"bp","x":299,"y":11},{"k":"bp","x":302,"y":6},{"k":"bp","x":305,"y":9},{"k":"bp","x":308,"y":7},{"k":"bp","x":311,"y":10},{"k":"bp","x":314,"y":5},{"k":"bp","x":317,"y":8},{"k":"bp","x":320,"y":9},{"k":"bp","x":323,"y":6},{"k":"bp","x":326,"y":8},
{"k":"bp","x":327.5,"y":8},{"k":"bp","x":328,"y":-48},{"k":"bp","x":328.5,"y":3},{"k":"bp","x":331,"y":-2},{"k":"bp","x":333,"y":4},{"k":"bp","x":335,"y":-1},{"k":"bp","x":337,"y":3},{"k":"bp","x":339,"y":-3},{"k":"bp","x":341,"y":4},{"k":"bp","x":343,"y":0},{"k":"bp","x":345,"y":3},
{"k":"bn","x":184,"y":-1},{"k":"bn","x":186,"y":3},{"k":"bn","x":188,"y":-2},{"k":"bn","x":190,"y":2},{"k":"bn","x":192,"y":-1},{"k":"bn","x":194,"y":3},{"k":"bn","x":196,"y":-2},{"k":"bn","x":198,"y":2},{"k":"bn","x":199.5,"y":1},{"k":"bn","x":200,"y":-48},{"k":"bn","x":200.5,"y":-8},
{"k":"bn","x":203,"y":-7},{"k":"bn","x":206,"y":-3},{"k":"bn","x":209,"y":-5},{"k":"bn","x":212,"y":-1},{"k":"bn","x":215,"y":-6},{"k":"bn","x":218,"y":-4},{"k":"bn","x":221,"y":-2},{"k":"bn","x":224,"y":-7},{"k":"bn","x":227,"y":-3},{"k":"bn","x":230,"y":-5},{"k":"bn","x":233,"y":0},{"k":"bn","x":236,"y":-4},{"k":"bn","x":239,"y":-6},{"k":"bn","x":242,"y":-2},{"k":"bn","x":245,"y":-5},{"k":"bn","x":248,"y":-3},{"k":"bn","x":251,"y":-7},{"k":"bn","x":254,"y":-1},{"k":"bn","x":257,"y":-4},{"k":"bn","x":260,"y":-6},{"k":"bn","x":263,"y":-2},{"k":"bn","x":266,"y":-5},{"k":"bn","x":269,"y":-3},{"k":"bn","x":272,"y":-8},{"k":"bn","x":275,"y":-4},{"k":"bn","x":278,"y":-1},{"k":"bn","x":281,"y":-5},{"k":"bn","x":284,"y":-3},{"k":"bn","x":287,"y":-6},{"k":"bn","x":290,"y":-2},{"k":"bn","x":293,"y":-4},{"k":"bn","x":296,"y":-7},{"k":"bn","x":299,"y":-3},{"k":"bn","x":302,"y":-5},{"k":"bn","x":305,"y":-1},{"k":"bn","x":308,"y":-4},{"k":"bn","x":311,"y":-6},{"k":"bn","x":314,"y":-3},{"k":"bn","x":317,"y":-2},{"k":"bn","x":320,"y":-5},{"k":"bn","x":323,"y":-4},{"k":"bn","x":326,"y":-3},
{"k":"bn","x":327.5,"y":-4},{"k":"bn","x":328,"y":51},{"k":"bn","x":328.5,"y":-2},{"k":"bn","x":331,"y":3},{"k":"bn","x":333,"y":-2},{"k":"bn","x":335,"y":4},{"k":"bn","x":337,"y":-1},{"k":"bn","x":339,"y":3},{"k":"bn","x":341,"y":-2},{"k":"bn","x":343,"y":2},{"k":"bn","x":345,"y":-1},
{"k":"cp","x":362,"y":-2},{"k":"cp","x":364,"y":-6},{"k":"cp","x":366,"y":-1},{"k":"cp","x":368,"y":-5},{"k":"cp","x":370,"y":-2},{"k":"cp","x":372,"y":-6},{"k":"cp","x":374,"y":-3},{"k":"cp","x":376,"y":-5},{"k":"cp","x":377.5,"y":-4},{"k":"cp","x":378,"y":47},{"k":"cp","x":378.5,"y":8},
{"k":"cp","x":381,"y":4},{"k":"cp","x":384,"y":0},{"k":"cp","x":387,"y":3},{"k":"cp","x":390,"y":-2},{"k":"cp","x":393,"y":2},{"k":"cp","x":396,"y":5},{"k":"cp","x":399,"y":-1},{"k":"cp","x":402,"y":1},{"k":"cp","x":405,"y":3},{"k":"cp","x":408,"y":-3},{"k":"cp","x":411,"y":2},{"k":"cp","x":414,"y":0},{"k":"cp","x":417,"y":4},{"k":"cp","x":420,"y":-1},{"k":"cp","x":423,"y":1},{"k":"cp","x":426,"y":3},{"k":"cp","x":429,"y":-2},{"k":"cp","x":432,"y":2},{"k":"cp","x":435,"y":0},{"k":"cp","x":438,"y":4},{"k":"cp","x":441,"y":-1},{"k":"cp","x":444,"y":1},{"k":"cp","x":447,"y":-3},{"k":"cp","x":450,"y":3},{"k":"cp","x":453,"y":0},{"k":"cp","x":456,"y":2},{"k":"cp","x":459,"y":-2},{"k":"cp","x":462,"y":4},{"k":"cp","x":465,"y":1},{"k":"cp","x":468,"y":-1},{"k":"cp","x":471,"y":3},{"k":"cp","x":474,"y":0},{"k":"cp","x":477,"y":2},{"k":"cp","x":480,"y":-2},{"k":"cp","x":483,"y":1},{"k":"cp","x":486,"y":4},{"k":"cp","x":489,"y":-1},{"k":"cp","x":492,"y":2},{"k":"cp","x":495,"y":0},{"k":"cp","x":498,"y":3},{"k":"cp","x":501,"y":-1},{"k":"cp","x":504,"y":1},
{"k":"cp","x":505.5,"y":1},{"k":"cp","x":506,"y":-53},{"k":"cp","x":506.5,"y":-6},{"k":"cp","x":509,"y":0},{"k":"cp","x":511,"y":-5},{"k":"cp","x":513,"y":-1},{"k":"cp","x":515,"y":-4},{"k":"cp","x":517,"y":-2},{"k":"cp","x":519,"y":-6},{"k":"cp","x":521,"y":-1},{"k":"cp","x":523,"y":-4},
{"k":"cn","x":362,"y":-5},{"k":"cn","x":364,"y":-2},{"k":"cn","x":366,"y":-6},{"k":"cn","x":368,"y":-3},{"k":"cn","x":370,"y":-6},{"k":"cn","x":372,"y":-2},{"k":"cn","x":374,"y":-5},{"k":"cn","x":376,"y":-3},{"k":"cn","x":377.5,"y":-4},{"k":"cn","x":378,"y":-53},{"k":"cn","x":378.5,"y":-18},
{"k":"cn","x":381,"y":-13},{"k":"cn","x":384,"y":-9},{"k":"cn","x":387,"y":-12},{"k":"cn","x":390,"y":-8},{"k":"cn","x":393,"y":-14},{"k":"cn","x":396,"y":-10},{"k":"cn","x":399,"y":-7},{"k":"cn","x":402,"y":-12},{"k":"cn","x":405,"y":-9},{"k":"cn","x":408,"y":-15},{"k":"cn","x":411,"y":-10},{"k":"cn","x":414,"y":-8},{"k":"cn","x":417,"y":-13},{"k":"cn","x":420,"y":-11},{"k":"cn","x":423,"y":-7},{"k":"cn","x":426,"y":-12},{"k":"cn","x":429,"y":-9},{"k":"cn","x":432,"y":-14},{"k":"cn","x":435,"y":-10},{"k":"cn","x":438,"y":-8},{"k":"cn","x":441,"y":-12},{"k":"cn","x":444,"y":-11},{"k":"cn","x":447,"y":-15},{"k":"cn","x":450,"y":-9},{"k":"cn","x":453,"y":-7},{"k":"cn","x":456,"y":-13},{"k":"cn","x":459,"y":-10},{"k":"cn","x":462,"y":-12},{"k":"cn","x":465,"y":-8},{"k":"cn","x":468,"y":-11},{"k":"cn","x":471,"y":-16},{"k":"cn","x":474,"y":-10},{"k":"cn","x":477,"y":-9},{"k":"cn","x":480,"y":-12},{"k":"cn","x":483,"y":-8},{"k":"cn","x":486,"y":-13},{"k":"cn","x":489,"y":-10},{"k":"cn","x":492,"y":-11},{"k":"cn","x":495,"y":-14},{"k":"cn","x":498,"y":-9},{"k":"cn","x":501,"y":-12},{"k":"cn","x":504,"y":-10},
{"k":"cn","x":505.5,"y":-11},{"k":"cn","x":506,"y":47},{"k":"cn","x":506.5,"y":2},{"k":"cn","x":509,"y":-6},{"k":"cn","x":511,"y":-2},{"k":"cn","x":513,"y":-5},{"k":"cn","x":515,"y":-1},{"k":"cn","x":517,"y":-4},{"k":"cn","x":519,"y":-2},{"k":"cn","x":521,"y":-5},{"k":"cn","x":523,"y":-3}
],
"r5":[
{"k":"ap","x":0,"y":5},{"k":"ap","x":7,"y":0},{"k":"ap","x":14.5,"y":3},{"k":"ap","x":15,"y":613},{"k":"ap","x":15.5,"y":130},{"k":"ap","x":17,"y":95},{"k":"ap","x":19,"y":75},{"k":"ap","x":22,"y":60},{"k":"ap","x":26,"y":50},{"k":"ap","x":32,"y":44},{"k":"ap","x":45,"y":40},{"k":"ap","x":60,"y":37},{"k":"ap","x":80,"y":34},{"k":"ap","x":100,"y":31},{"k":"ap","x":120,"y":29},{"k":"ap","x":141.5,"y":26},{"k":"ap","x":142,"y":-720},{"k":"ap","x":142.5,"y":-45},{"k":"ap","x":146,"y":-25},{"k":"ap","x":150,"y":-12},{"k":"ap","x":155,"y":-4},{"k":"ap","x":160,"y":0},{"k":"ap","x":163,"y":0},
{"k":"an","x":0,"y":0},{"k":"an","x":7,"y":4},{"k":"an","x":14.5,"y":0},{"k":"an","x":15,"y":-597},{"k":"an","x":15.5,"y":-130},{"k":"an","x":17,"y":-95},{"k":"an","x":19,"y":-75},{"k":"an","x":22,"y":-60},{"k":"an","x":26,"y":-48},{"k":"an","x":32,"y":-40},{"k":"an","x":45,"y":-36},{"k":"an","x":60,"y":-34},{"k":"an","x":80,"y":-33},{"k":"an","x":100,"y":-32},{"k":"an","x":120,"y":-32},{"k":"an","x":141.5,"y":-32},{"k":"an","x":142,"y":613},{"k":"an","x":142.5,"y":45},{"k":"an","x":146,"y":25},{"k":"an","x":150,"y":12},{"k":"an","x":155,"y":4},{"k":"an","x":160,"y":0},{"k":"an","x":163,"y":0},
{"k":"bp","x":185,"y":13},{"k":"bp","x":193,"y":12},{"k":"bp","x":200.5,"y":13},{"k":"bp","x":201,"y":626},{"k":"bp","x":201.5,"y":345},{"k":"bp","x":205,"y":335},{"k":"bp","x":209,"y":328},{"k":"bp","x":213,"y":332},{"k":"bp","x":217,"y":320},{"k":"bp","x":221,"y":326},{"k":"bp","x":225,"y":315},{"k":"bp","x":229,"y":322},{"k":"bp","x":233,"y":310},{"k":"bp","x":237,"y":305},{"k":"bp","x":241,"y":312},{"k":"bp","x":245,"y":300},{"k":"bp","x":249,"y":295},{"k":"bp","x":253,"y":302},{"k":"bp","x":257,"y":288},{"k":"bp","x":261,"y":284},{"k":"bp","x":265,"y":292},{"k":"bp","x":269,"y":282},{"k":"bp","x":273,"y":290},{"k":"bp","x":277,"y":286},{"k":"bp","x":280,"y":292},{"k":"bp","x":281,"y":350},{"k":"bp","x":285,"y":360},{"k":"bp","x":289,"y":355},{"k":"bp","x":293,"y":368},{"k":"bp","x":297,"y":362},{"k":"bp","x":301,"y":375},{"k":"bp","x":305,"y":370},{"k":"bp","x":309,"y":384},{"k":"bp","x":313,"y":378},{"k":"bp","x":317,"y":390},{"k":"bp","x":321,"y":385},{"k":"bp","x":326.5,"y":388},{"k":"bp","x":327,"y":-584},{"k":"bp","x":327.5,"y":-75},{"k":"bp","x":332,"y":-50},{"k":"bp","x":337,"y":-28},{"k":"bp","x":342,"y":-10},{"k":"bp","x":347,"y":0},
{"k":"bn","x":185,"y":12},{"k":"bn","x":193,"y":14},{"k":"bn","x":200.5,"y":12},{"k":"bn","x":201,"y":-584},{"k":"bn","x":201.5,"y":-200},{"k":"bn","x":204,"y":-160},{"k":"bn","x":207,"y":-135},{"k":"bn","x":211,"y":-120},{"k":"bn","x":215,"y":-112},{"k":"bn","x":219,"y":-118},{"k":"bn","x":223,"y":-108},{"k":"bn","x":227,"y":-114},{"k":"bn","x":231,"y":-105},{"k":"bn","x":235,"y":-112},{"k":"bn","x":239,"y":-118},{"k":"bn","x":243,"y":-110},{"k":"bn","x":247,"y":-116},{"k":"bn","x":251,"y":-108},{"k":"bn","x":255,"y":-120},{"k":"bn","x":259,"y":-114},{"k":"bn","x":263,"y":-110},{"k":"bn","x":267,"y":-118},{"k":"bn","x":271,"y":-112},{"k":"bn","x":275,"y":-106},{"k":"bn","x":279,"y":-115},{"k":"bn","x":283,"y":-120},{"k":"bn","x":287,"y":-112},{"k":"bn","x":291,"y":-118},{"k":"bn","x":295,"y":-110},{"k":"bn","x":299,"y":-124},{"k":"bn","x":303,"y":-118},{"k":"bn","x":307,"y":-128},{"k":"bn","x":311,"y":-120},{"k":"bn","x":315,"y":-132},{"k":"bn","x":319,"y":-125},{"k":"bn","x":323,"y":-130},{"k":"bn","x":326.5,"y":-134},{"k":"bn","x":327,"y":613},{"k":"bn","x":327.5,"y":75},{"k":"bn","x":332,"y":50},{"k":"bn","x":337,"y":28},{"k":"bn","x":342,"y":10},{"k":"bn","x":347,"y":0},
{"k":"cp","x":362,"y":-60},{"k":"cp","x":370,"y":-63},{"k":"cp","x":377.5,"y":-62},{"k":"cp","x":378,"y":547},{"k":"cp","x":378.5,"y":40},{"k":"cp","x":381,"y":15},{"k":"cp","x":385,"y":0},{"k":"cp","x":390,"y":-8},{"k":"cp","x":400,"y":-14},{"k":"cp","x":420,"y":-18},{"k":"cp","x":450,"y":-22},{"k":"cp","x":480,"y":-27},{"k":"cp","x":505.5,"y":-32},{"k":"cp","x":506,"y":-676},{"k":"cp","x":506.5,"y":-125},{"k":"cp","x":510,"y":-105},{"k":"cp","x":515,"y":-88},{"k":"cp","x":520,"y":-76},{"k":"cp","x":524,"y":-71},
{"k":"cn","x":362,"y":-64},{"k":"cn","x":370,"y":-61},{"k":"cn","x":377.5,"y":-63},{"k":"cn","x":378,"y":-676},{"k":"cn","x":378.5,"y":-220},{"k":"cn","x":381,"y":-180},{"k":"cn","x":385,"y":-160},{"k":"cn","x":390,"y":-152},{"k":"cn","x":400,"y":-148},{"k":"cn","x":430,"y":-145},{"k":"cn","x":460,"y":-142},{"k":"cn","x":490,"y":-139},{"k":"cn","x":505.5,"y":-137},{"k":"cn","x":506,"y":547},{"k":"cn","x":506.5,"y":-20},{"k":"cn","x":510,"y":-40},{"k":"cn","x":515,"y":-55},{"k":"cn","x":520,"y":-66},{"k":"cn","x":524,"y":-71}
]
},
"vconcat":[
{"width":550,"height":200,"layer":[
{"data":{"name":"r1"},"mark":{"type":"line","color":"#161616","strokeWidth":1.15},"encoding":{"x":{"field":"x","type":"quantitative","scale":{"domain":[-3,547],"nice":false,"zero":false},"axis":null},"y":{"field":"y","type":"quantitative","title":"pA Current","scale":{"domain":[-1151,1430],"nice":false,"zero":false},"axis":{"values":[1000,500,0,-500,-1000]}},"detail":{"field":"k"}}},
{"data":{"values":[{"x":0,"y":-1000,"y2":1000}]},"mark":{"type":"rule","color":"#555","strokeWidth":1.2},"encoding":{"x":{"field":"x","type":"quantitative","axis":null},"y":{"field":"y","type":"quantitative","title":"pA Current"},"y2":{"field":"y2"}}},
{"data":{"values":[{"t":"Bath","x":72,"y":1180},{"t":"cGMP","x":267,"y":1214},{"t":"Bath after cGMP","x":445,"y":1180},{"t":"CNGA3","x":275,"y":139}]},"mark":{"type":"text","font":"Liberation Sans","fontSize":24,"color":"#111"},"encoding":{"x":{"field":"x","type":"quantitative","axis":null},"y":{"field":"y","type":"quantitative","title":"pA Current"},"text":{"field":"t"}}}
]},
{"width":550,"height":190,"layer":[
{"data":{"name":"r2"},"mark":{"type":"line","color":"#161616","strokeWidth":1.15},"encoding":{"x":{"field":"x","type":"quantitative","scale":{"domain":[-3,547],"nice":false,"zero":false},"axis":null},"y":{"field":"y","type":"quantitative","title":"pA Current","scale":{"domain":[-64.3,59.5],"nice":false,"zero":false},"axis":{"values":[50,0,-50]}},"detail":{"field":"k"}}},
{"data":{"values":[{"x":0,"y":-50,"y2":50}]},"mark":{"type":"rule","color":"#555","strokeWidth":1.2},"encoding":{"x":{"field":"x","type":"quantitative","axis":null},"y":{"field":"y","type":"quantitative","title":"pA Current"},"y2":{"field":"y2"}}},
{"data":{"values":[{"t":"Y181C","x":272,"y":30.2}]},"mark":{"type":"text","font":"Liberation Sans","fontSize":24,"color":"#111"},"encoding":{"x":{"field":"x","type":"quantitative","axis":null},"y":{"field":"y","type":"quantitative","title":"pA Current"},"text":{"field":"t"}}}
]},
{"width":550,"height":200,"layer":[
{"data":{"name":"r3"},"mark":{"type":"line","color":"#161616","strokeWidth":1.15},"encoding":{"x":{"field":"x","type":"quantitative","scale":{"domain":[-3,547],"nice":false,"zero":false},"axis":null},"y":{"field":"y","type":"quantitative","title":"pA Current","scale":{"domain":[-71.05,60.5],"nice":false,"zero":false},"axis":{"values":[50,0,-50]}},"detail":{"field":"k"}}},
{"data":{"values":[{"x":0,"y":-50,"y2":50}]},"mark":{"type":"rule","color":"#555","strokeWidth":1.2},"encoding":{"x":{"field":"x","type":"quantitative","axis":null},"y":{"field":"y","type":"quantitative","title":"pA Current"},"y2":{"field":"y2"}}},
{"data":{"values":[{"t":"N182Y","x":272,"y":37.5}]},"mark":{"type":"text","font":"Liberation Sans","fontSize":24,"color":"#111"},"encoding":{"x":{"field":"x","type":"quantitative","axis":null},"y":{"field":"y","type":"quantitative","title":"pA Current"},"text":{"field":"t"}}}
]},
{"width":550,"height":190,"layer":[
{"data":{"name":"r4"},"mark":{"type":"line","color":"#161616","strokeWidth":1.15},"encoding":{"x":{"field":"x","type":"quantitative","scale":{"domain":[-3,547],"nice":false,"zero":false},"axis":null},"y":{"field":"y","type":"quantitative","title":"pA Current","scale":{"domain":[-59.8,64.4],"nice":false,"zero":false},"axis":{"values":[50,0,-50]}},"detail":{"field":"k"}}},
{"data":{"values":[{"x":0,"y":-50,"y2":50}]},"mark":{"type":"rule","color":"#555","strokeWidth":1.2},"encoding":{"x":{"field":"x","type":"quantitative","axis":null},"y":{"field":"y","type":"quantitative","title":"pA Current"},"y2":{"field":"y2"}}},
{"data":{"values":[{"t":"L186F","x":262,"y":45.9}]},"mark":{"type":"text","font":"Liberation Sans","fontSize":24,"color":"#111"},"encoding":{"x":{"field":"x","type":"quantitative","axis":null},"y":{"field":"y","type":"quantitative","title":"pA Current"},"text":{"field":"t"}}}
]},
{"width":550,"height":185,"layer":[
{"data":{"name":"r5"},"mark":{"type":"line","color":"#161616","strokeWidth":1.15},"encoding":{"x":{"field":"x","type":"quantitative","scale":{"domain":[-3,547],"nice":false,"zero":false},"axis":null},"y":{"field":"y","type":"quantitative","title":"pA Current","scale":{"domain":[-742,718.4],"nice":false,"zero":false},"axis":{"values":[600,300,0,-300,-600]}},"detail":{"field":"k"}}},
{"data":{"values":[{"x":0,"y":-600,"y2":600}]},"mark":{"type":"rule","color":"#555","strokeWidth":1.2},"encoding":{"x":{"field":"x","type":"quantitative","axis":null},"y":{"field":"y","type":"quantitative","title":"pA Current"},"y2":{"field":"y2"}}},
{"data":{"values":[{"t":"C191Y","x":265,"y":665}]},"mark":{"type":"text","font":"Liberation Sans","fontSize":24,"color":"#111"},"encoding":{"x":{"field":"x","type":"quantitative","axis":null},"y":{"field":"y","type":"quantitative","title":"pA Current"},"text":{"field":"t"}}}
]}
]
}
